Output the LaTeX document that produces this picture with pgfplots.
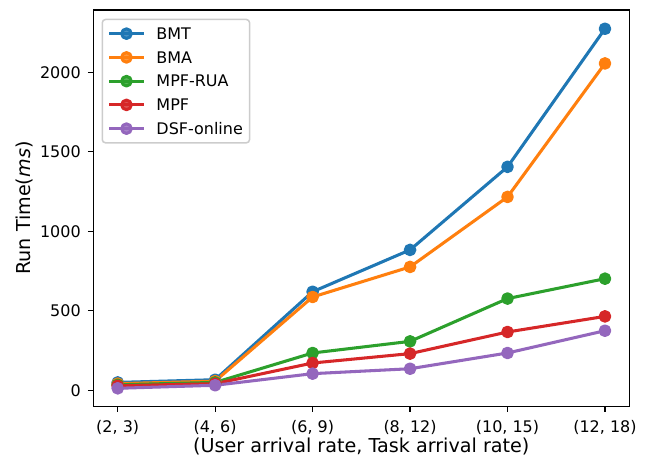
\documentclass[border=0pt]{standalone}
\usepackage{fontspec}
\setmainfont{DejaVu Sans}
\usepackage{pgfplots}
\pgfplotsset{compat=1.18}

\definecolor{tabblue}{HTML}{1F77B4}
\definecolor{taborange}{HTML}{FF7F0E}
\definecolor{tabgreen}{HTML}{2CA02C}
\definecolor{tabred}{HTML}{D62728}
\definecolor{tabpurple}{HTML}{9467BD}
\definecolor{legendedge}{HTML}{CCCCCC}

\begin{document}
\begin{tikzpicture}
\begin{axis}[
  name=ax,
  scale only axis,
  width=385.9pt, height=285.3pt,
  xmin=-0.25, xmax=5.25,
  ymin=-100, ymax=2391,
  xtick={0,1,2,3,4,5},
  xticklabels={{(2, 3)},{(4, 6)},{(6, 9)},{(8, 12)},{(10, 15)},{(12, 18)}},
  ytick={0,500,1000,1500,2000},
  /pgf/number format/assume math mode=true,
  /pgf/number format/1000 sep={},
  tick pos=left,
  tick align=outside,
  major tick length=4pt,
  tick style={black, line width=0.9pt},
  axis line style={black, line width=0.9pt},
  ticklabel style={font=\fontsize{11.5}{13.8}\selectfont},
  xticklabel style={anchor=base, inner sep=0pt, yshift=-14.9pt},
  yticklabel style={anchor=east, inner sep=0pt, xshift=-4.9pt},
  label style={font=\fontsize{13.8}{16.5}\selectfont},
  xlabel={(User arrival rate, Task arrival rate)},
  xlabel style={at={(axis description cs:0.5,-0.1178)}, anchor=base, inner sep=0pt},
  ylabel={Run Time(\textit{ms})},
  ylabel style={at={(axis description cs:-0.1293,0.5)}, anchor=center, rotate=0, inner sep=0pt},
  every axis plot/.append style={line width=2.2pt, mark=*, mark size=3.45pt, line cap=rect, line join=round},
  legend image code/.code={
    \draw[mark repeat=2, mark phase=2] plot coordinates {(0pt,0pt) (11.5pt,0pt) (23pt,0pt)};
  },
  legend cell align=left,
  legend style={
    at={(0.0153,0.978)}, anchor=north west,
    draw=legendedge, line width=1.1pt, rounded corners=2.3pt,
    fill=white, fill opacity=0.8, text opacity=1,
    font=\fontsize{11.5}{13.8}\selectfont,
    inner xsep=4.8pt, inner ysep=6pt,
    row sep=8.7pt, column sep=9pt,
    nodes={inner sep=0pt, text height=8.4pt, text depth=0pt, anchor=west},
  },
]
\addplot[color=tabblue] coordinates {(0,50) (1,67) (2,620) (3,883) (4,1405) (5,2273)};
\addlegendentry{BMT}
\addplot[color=taborange] coordinates {(0,42) (1,58) (2,587) (3,776) (4,1216) (5,2055)};
\addlegendentry{BMA}
\addplot[color=tabgreen] coordinates {(0,35) (1,50) (2,235) (3,308) (4,577) (5,702)};
\addlegendentry{MPF-RUA}
\addplot[color=tabred] coordinates {(0,29) (1,42) (2,172) (3,231) (4,367) (5,465)};
\addlegendentry{MPF}
\addplot[color=tabpurple] coordinates {(0,13) (1,32) (2,105) (3,136) (4,235) (5,375)};
\addlegendentry{DSF-online}
\end{axis}
\pgfresetboundingbox
\path[use as bounding box] ([shift={(-67.2pt,-37.9pt)}]ax.south west) rectangle ([shift={(12pt,7.2pt)}]ax.north east);
\end{tikzpicture}
\end{document}
